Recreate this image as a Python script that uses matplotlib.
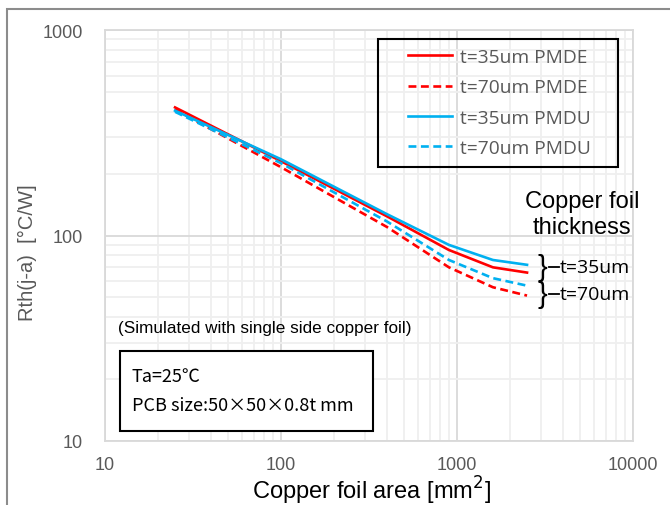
import numpy as np
import matplotlib
matplotlib.use("Agg")
import matplotlib.pyplot as plt
from matplotlib.patches import Rectangle
from matplotlib.ticker import LogLocator, NullFormatter, FixedLocator, FixedFormatter

# ---- data ------------------------------------------------------------------
area = [25, 100, 400, 900, 1600, 2500]          # copper foil area [mm^2]
pmde_35 = [420, 230, 124, 85, 70, 66]
pmde_70 = [410, 215, 110, 70, 56, 51]
pmdu_35 = [405, 235, 127, 90, 76, 72]
pmdu_70 = [400, 225, 117, 76, 62, 57]
x_ticks = [10, 100, 1000, 10000]
y_ticks = [10, 100, 1000]

RED, BLUE, GREY = "#FF0000", "#00B0F0", "#595959"
SANS = ["Liberation Sans", "DejaVu Sans"]
UI = ["Open Sans", "DejaVu Sans"]
JP = ["Noto Sans CJK JP", "DejaVu Sans"]
W, H = 670, 506


def fx(px):
    return px / W


def fy(py):
    return 1 - py / H


fig = plt.figure(figsize=(6.7, 5.06), dpi=100)
ax = fig.add_axes([fx(105), 64 / H, 528 / W, 411 / H])

DASH = (3.0, 1.7)
ax.plot(area, pmde_35, "-", color=RED, lw=1.9, label="t=35um PMDE")
ax.plot(area, pmde_70, "--", color=RED, lw=1.9, dashes=DASH, label="t=70um PMDE")
ax.plot(area, pmdu_35, "-", color=BLUE, lw=1.9, label="t=35um PMDU")
ax.plot(area, pmdu_70, "--", color=BLUE, lw=1.9, dashes=DASH, label="t=70um PMDU")

ax.set_xscale("log"); ax.set_yscale("log")
ax.set_xlim(10, 10000); ax.set_ylim(10, 1000)
ax.xaxis.set_major_locator(FixedLocator(x_ticks))
ax.xaxis.set_major_formatter(FixedFormatter([str(v) for v in x_ticks]))
ax.yaxis.set_major_locator(FixedLocator(y_ticks))
ax.yaxis.set_major_formatter(FixedFormatter([str(v) for v in y_ticks]))
for a in (ax.xaxis, ax.yaxis):
    a.set_minor_locator(LogLocator(base=10, subs=np.arange(2, 10)))
    a.set_minor_formatter(NullFormatter())
ax.grid(True, which="minor", color="#EFEFEF", lw=1.3)
ax.grid(True, which="major", color="#D9D9D9", lw=1.3)
ax.set_axisbelow(True)
ax.tick_params(which="both", length=0)
ax.tick_params(axis="x", pad=11, labelsize=13, labelcolor=GREY)
ax.tick_params(axis="y", pad=16, labelsize=13, labelcolor=GREY)
for lab in ax.get_xticklabels() + ax.get_yticklabels():
    lab.set_family(SANS)
for s in ax.spines.values():
    s.set_color("#D9D9D9"); s.set_linewidth(1.3)

fig.text(fx(371), fy(500), "Copper foil area [mm$^2$]", fontsize=17, family=SANS,
         ha="center", va="baseline")
fig.text(fx(27), fy(253), "Rth(j-a)  [°C/W]", fontsize=14.5, color=GREY, family=SANS,
         rotation=90, ha="center", va="center")

# legend (frame drawn separately to match the boxed Excel legend)
leg = ax.legend(loc="upper left", bbox_to_anchor=((408 - 105) / 528, (442 - 49) / 411),
                borderaxespad=0, borderpad=0, frameon=False,
                prop={"family": UI, "size": 13.8}, handlelength=2.3, handletextpad=0.4,
                labelspacing=0.64, labelcolor=GREY)
fig.add_artist(Rectangle((fx(378), fy(168)), 240 / W, 128 / H, transform=fig.transFigure,
                         fill=False, edgecolor="black", lw=1.5))

# right-hand annotation
fig.text(fx(582), fy(208), "Copper foil", fontsize=17, family=SANS, ha="center", va="baseline")
fig.text(fx(582), fy(234), "thickness", fontsize=17, family=SANS, ha="center", va="baseline")
for yc, txt in ((268, "t=35um"), (295, "t=70um")):
    fig.text(fx(538), fy(yc), "}", fontsize=21, family=["Liberation Sans"],
             ha="left", va="center")
    fig.add_artist(plt.Line2D([fx(549), fx(559)], [fy(yc)] * 2, color="black", lw=1.3))
    fig.text(fx(560), fy(yc), txt, fontsize=14, family=UI, ha="left", va="center")

fig.text(fx(118), fy(328), "(Simulated with single side copper foil)", fontsize=12.3,
         family=SANS, ha="left", va="center")
fig.add_artist(Rectangle((fx(120), fy(432)), 253 / W, 80 / H, transform=fig.transFigure,
                         fill=True, facecolor="white", edgecolor="black", lw=1.5))
fig.text(fx(132), fy(377), "Ta=25℃", fontsize=13, family=JP, ha="left", va="center")
fig.text(fx(132), fy(406), "PCB size:50×50×0.8t mm", fontsize=13, family=JP,
         ha="left", va="center")

# outer chart frame
fig.add_artist(Rectangle((fx(7), -0.05), 1.0, fy(10) + 0.05, transform=fig.transFigure,
                         fill=False, edgecolor="#8C8C8C", lw=1.5, clip_on=False))

fig.savefig("out.png", dpi=100)
